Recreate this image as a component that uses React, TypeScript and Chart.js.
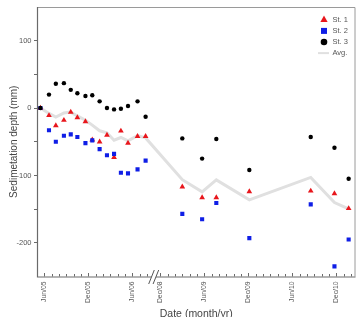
import { useEffect, useRef } from 'react';
import { Chart, registerables } from 'chart.js';

Chart.register(...registerables);

// Survey dates (YYYY-MM-DD); the axis is broken between Aug/06 and Dec/08.
const SURVEY_DATES = [
  '2005-05-15', '2005-06-20', '2005-07-18', '2005-08-21', '2005-09-19',
  '2005-10-16', '2005-11-19', '2005-12-17', '2006-01-17', '2006-02-17',
  '2006-03-16', '2006-04-14', '2006-05-13', '2006-06-22', '2006-07-25',
  '2009-03-01', '2009-05-22', '2009-07-20', '2009-12-05', '2010-08-16',
  '2010-11-23', '2011-01-21',
];

// Sedimentation depth (mm) per station
const ST1 = [
  0, -11, -26, -18, -6, -14, -20, -47, -50, -40, -73, -34, -52, -42, -42,
  -117, -133, -133, -124, -123, -127, -149,
];
const ST2 = [
  0, -33, -50, -41, -39, -43, -52, -48, -61, -70, -68, -96, -97, -91, -78,
  -157, -165, -141, -193, -143, -235, -195,
];
const ST3 = [
  0, 20, 36, 37, 27, 22, 18, 19, 10, 0, -2, -1, 3, 10, -13,
  -45, -75, -46, -92, -43, -59, -105,
];
const AVG = [
  0, -8, -13.3, -7.3, -6, -11.7, -18, -25.3, -33.7, -36.7, -47.7, -43.7, -48.7, -41, -44.3,
  -106.3, -124.3, -106.7, -136.3, -103, -140.3, -149.7,
];

const X_TICK_LABELS = ['Jun/05', 'Dec/05', 'Jun/06', 'Dec/08', 'Jun/09', 'Dec/09', 'Jun/10', 'Dec/10'];
const X_TICK_DATES = [
  '2005-06-01', '2005-12-01', '2006-06-01', '2008-12-01',
  '2009-06-01', '2009-12-01', '2010-06-01', '2010-12-01',
];
// Monthly minor ticks on each side of the axis break
const MONTH_TICK_RANGES: [string, string][] = [
  ['2005-06-01', '2006-08-01'],
  ['2008-12-01', '2011-02-01'],
];
const X_MIN_DATE = '2005-05-01';
const X_MAX_DATE = '2011-02-19';

const Y_MIN = -250;
const Y_MAX = 150;
const Y_TICKS = [-200, -150, -100, -50, 0, 50, 100];
const Y_LABELED = [-200, -100, 0, 100];

// Months removed from the axis at the break (Sep/06 .. Nov/08)
const BREAK_YEAR = 2007;
const GAP_MONTHS = 26.2;

function toAxis(date: string): number {
  const [y, m, d] = date.split('-').map(Number);
  const months = (y - 2005) * 12 + (m - 6) + (d - 1) / 30;
  return y >= BREAK_YEAR ? months - GAP_MONTHS : months;
}

function monthTicks(): { value: number; major: boolean }[] {
  const out: { value: number; major: boolean }[] = [];
  for (const [from, to] of MONTH_TICK_RANGES) {
    let [y, m] = from.split('-').map(Number);
    const [ty, tm] = to.split('-').map(Number);
    while (y < ty || (y === ty && m <= tm)) {
      const ds = `${y}-${String(m).padStart(2, '0')}-01`;
      out.push({ value: toAxis(ds), major: m === 6 || m === 12 });
      m += 1;
      if (m > 12) { m = 1; y += 1; }
    }
  }
  return out;
}

const FONT = '"Liberation Sans", Arial, sans-serif';
const RED = '#e8161c';
const BLUE = '#0f1ee6';
const BLACK = '#000000';
const AVG_COLOR = '#e0e0e0';
const TEXT = '#555555';

const points = (vals: number[]) => SURVEY_DATES.map((d, i) => ({ x: toAxis(d), y: vals[i] }));

const framePlugin = {
  id: 'frame',
  beforeDatasetsDraw(chart: any) {
    const { ctx, chartArea: a, scales } = chart;
    ctx.save();
    // top & right borders
    ctx.strokeStyle = '#9a9a9a';
    ctx.lineWidth = 1;
    ctx.beginPath();
    ctx.moveTo(a.left, a.top + 0.5);
    ctx.lineTo(a.right - 0.5, a.top + 0.5);
    ctx.lineTo(a.right - 0.5, a.bottom);
    ctx.stroke();
    // left & bottom axis lines
    ctx.strokeStyle = '#6a6a6a';
    ctx.lineWidth = 1.2;
    ctx.beginPath();
    ctx.moveTo(a.left + 0.5, a.top);
    ctx.lineTo(a.left + 0.5, a.bottom + 0.5);
    ctx.lineTo(a.right, a.bottom + 0.5);
    ctx.stroke();
    // monthly tick marks pointing into the plot
    const xs = scales.x;
    ctx.lineWidth = 1;
    ctx.beginPath();
    for (const t of monthTicks()) {
      const px = Math.round(xs.getPixelForValue(t.value)) + 0.5;
      ctx.moveTo(px, a.bottom);
      ctx.lineTo(px, a.bottom - (t.major ? 3.5 : 2.5));
    }
    ctx.stroke();
    ctx.restore();
  },
  afterDatasetsDraw(chart: any) {
    const { ctx, chartArea: a, scales } = chart;
    const xs = scales.x;
    // axis break marks, centred between the last and first months either side
    const lastLeft = toAxis(MONTH_TICK_RANGES[0][1]);
    const firstRight = toAxis(MONTH_TICK_RANGES[1][0]);
    const cx = xs.getPixelForValue((lastLeft + firstRight) / 2);
    const cy = a.bottom + 0.5;
    const h = 7;
    const dx = 2.8;
    const sep = 2.2;
    ctx.save();
    ctx.fillStyle = '#ffffff';
    ctx.beginPath();
    ctx.moveTo(cx - sep - dx, cy + h);
    ctx.lineTo(cx - sep + dx, cy - h);
    ctx.lineTo(cx + sep + dx, cy - h);
    ctx.lineTo(cx + sep - dx, cy + h);
    ctx.closePath();
    ctx.fill();
    ctx.strokeStyle = '#555555';
    ctx.lineWidth = 1;
    ctx.beginPath();
    ctx.moveTo(cx - sep - dx, cy + h);
    ctx.lineTo(cx - sep + dx, cy - h);
    ctx.moveTo(cx + sep - dx, cy + h);
    ctx.lineTo(cx + sep + dx, cy - h);
    ctx.stroke();
    ctx.restore();
  },
};

const legendPlugin = {
  id: 'stationLegend',
  afterDraw(chart: any) {
    const { ctx, chartArea: a } = chart;
    const items = [
      { label: 'St. 1', kind: 'triangle', color: RED },
      { label: 'St. 2', kind: 'rect', color: BLUE },
      { label: 'St. 3', kind: 'circle', color: BLACK },
      { label: 'Avg.', kind: 'line', color: AVG_COLOR },
    ];
    const mx = a.right - 31.5;
    const tx = a.right - 23;
    ctx.save();
    ctx.font = `7.5px ${FONT}`;
    ctx.textBaseline = 'middle';
    ctx.textAlign = 'left';
    items.forEach((it, i) => {
      const y = a.top + 12.8 + i * 11.1;
      ctx.fillStyle = it.color;
      ctx.strokeStyle = it.color;
      ctx.beginPath();
      if (it.kind === 'triangle') {
        const r = 4.2;
        ctx.moveTo(mx, y - r);
        ctx.lineTo(mx + r * 0.866, y + r * 0.5);
        ctx.lineTo(mx - r * 0.866, y + r * 0.5);
        ctx.closePath();
        ctx.fill();
      } else if (it.kind === 'rect') {
        ctx.rect(mx - 3, y - 3, 6, 6);
        ctx.fill();
      } else if (it.kind === 'circle') {
        ctx.arc(mx, y, 3.3, 0, Math.PI * 2);
        ctx.fill();
      } else {
        ctx.lineWidth = 2;
        ctx.moveTo(mx - 6, y);
        ctx.lineTo(mx + 5, y);
        ctx.stroke();
      }
      ctx.fillStyle = TEXT;
      ctx.fillText(it.label, tx, y);
    });
    ctx.restore();
  },
};

export default function App() {
  const canvasRef = useRef<HTMLCanvasElement | null>(null);

  useEffect(() => {
    const canvas = canvasRef.current;
    if (!canvas) return;
    const chart = new Chart(canvas, {
      type: 'scatter',
      data: {
        datasets: [
          {
            label: 'St. 1',
            data: points(ST1),
            pointStyle: 'triangle',
            pointRadius: 3.3,
            pointBackgroundColor: RED,
            pointBorderWidth: 0,
            backgroundColor: RED,
            borderColor: RED,
            order: 3,
          },
          {
            label: 'St. 2',
            data: points(ST2),
            pointStyle: 'rect',
            pointRadius: 2.9,
            pointBackgroundColor: BLUE,
            pointBorderWidth: 0,
            backgroundColor: BLUE,
            borderColor: BLUE,
            order: 2,
          },
          {
            label: 'St. 3',
            data: points(ST3),
            pointStyle: 'circle',
            pointRadius: 2.2,
            pointBackgroundColor: BLACK,
            pointBorderWidth: 0,
            backgroundColor: BLACK,
            borderColor: BLACK,
            order: 1,
          },
          {
            label: 'Avg.',
            data: points(AVG),
            showLine: true,
            borderColor: AVG_COLOR,
            borderWidth: 3,
            pointRadius: 0,
            tension: 0,
            order: 4,
          },
        ],
      },
      options: {
        responsive: false,
        animation: false,
        devicePixelRatio: 1,
        layout: { padding: { top: 4, right: 5.5, left: 0, bottom: 0 } },
        plugins: {
          legend: { display: false },
          tooltip: { enabled: false },
        },
        scales: {
          x: {
            type: 'linear',
            min: toAxis(X_MIN_DATE),
            max: toAxis(X_MAX_DATE),
            afterBuildTicks: (scale: any) => {
              scale.ticks = X_TICK_DATES.map((d) => ({ value: toAxis(d) }));
            },
            afterFit: (scale: any) => {
              scale.height = 40.5;
            },
            ticks: {
              autoSkip: false,
              minRotation: 90,
              maxRotation: 90,
              padding: 5,
              color: TEXT,
              font: { family: FONT, size: 6.8 },
              callback: (_v: any, i: number) => X_TICK_LABELS[i],
            },
            grid: { display: false, drawTicks: false },
            border: { display: false },
            title: {
              display: true,
              text: 'Date (month/yr)',
              color: '#444444',
              font: { family: FONT, size: 10.5 },
              padding: { top: 0, bottom: -3.5 },
            },
          },
          y: {
            type: 'linear',
            min: Y_MIN,
            max: Y_MAX,
            afterBuildTicks: (scale: any) => {
              scale.ticks = Y_TICKS.map((v) => ({ value: v }));
            },
            afterFit: (scale: any) => {
              scale.width = 37;
            },
            ticks: {
              padding: 2.5,
              color: TEXT,
              font: { family: FONT, size: 7.5 },
              callback: (v: any) => (Y_LABELED.includes(Number(v)) ? String(v) : ''),
            },
            grid: {
              drawOnChartArea: false,
              drawTicks: true,
              tickLength: 3,
              color: '#6a6a6a',
            },
            border: { display: false },
            title: {
              display: true,
              text: 'Sedimetation depth (mm)',
              color: '#444444',
              font: { family: FONT, size: 10 },
              padding: { top: 8, bottom: 0 },
            },
          },
        },
      },
      plugins: [framePlugin, legendPlugin],
    } as any);
    return () => chart.destroy();
  }, []);

  return (
    <div style={{ position: 'absolute', left: 0, top: 0, width: 361, height: 317, background: '#fff' }}>
      <canvas ref={canvasRef} width={361} height={317} style={{ display: 'block' }} />
    </div>
  );
}
